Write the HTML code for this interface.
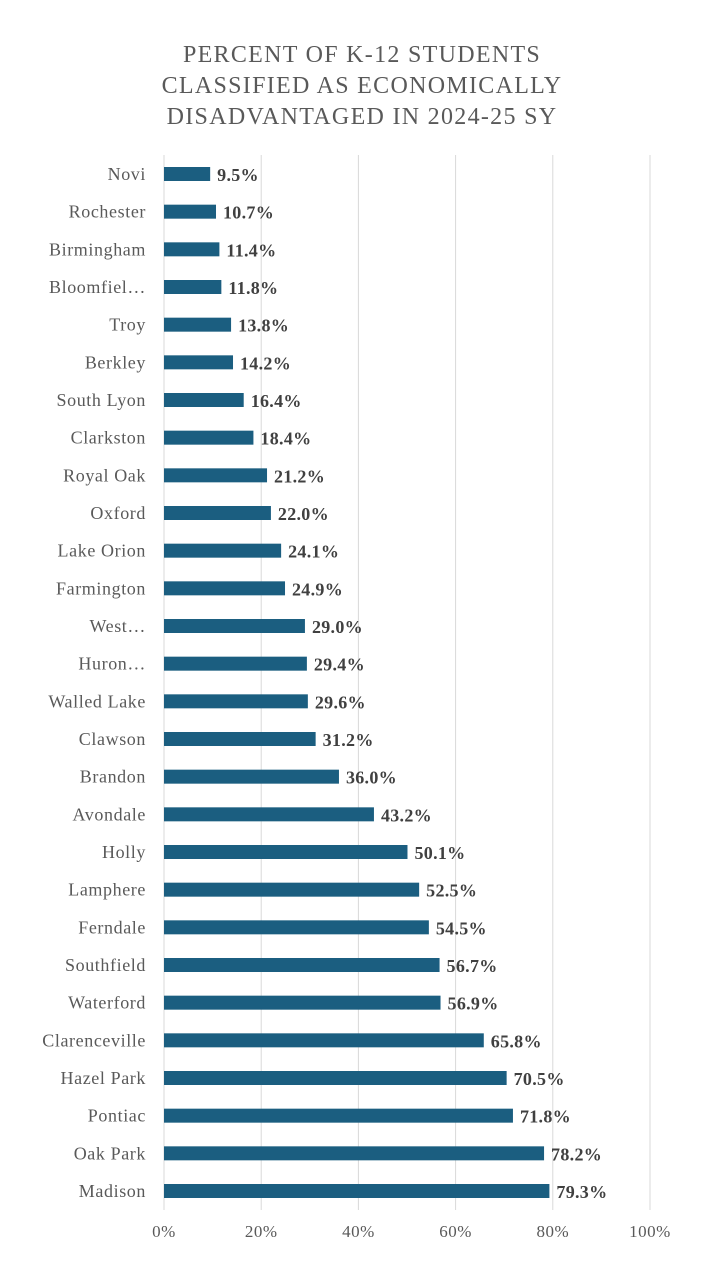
<!DOCTYPE html>
<html><head><meta charset="utf-8"><style>
body{margin:0;background:#fff;}
svg{display:block;font-family:"Liberation Serif",serif;}
</style></head><body>
<svg id="chart" width="720" height="1280" viewBox="0 0 720 1280" xmlns="http://www.w3.org/2000/svg">
<rect width="720" height="1280" fill="#fff"/>
<g fill="#595959" font-size="24" text-anchor="middle" letter-spacing="1.3">
<text x="362" y="62">PERCENT OF K-12 STUDENTS</text>
<text x="362" y="93">CLASSIFIED AS ECONOMICALLY</text>
<text x="362" y="124">DISADVANTAGED IN 2024-25 SY</text>
</g>
<g id="grid"></g>
<g id="xticks"></g>
<g id="bars"></g>
</svg>
<script>
const categories=["Novi","Rochester","Birmingham","Bloomfiel…","Troy","Berkley","South Lyon","Clarkston","Royal Oak","Oxford","Lake Orion","Farmington","West…","Huron…","Walled Lake","Clawson","Brandon","Avondale","Holly","Lamphere","Ferndale","Southfield","Waterford","Clarenceville","Hazel Park","Pontiac","Oak Park","Madison"];
const values=[9.5,10.7,11.4,11.8,13.8,14.2,16.4,18.4,21.2,22.0,24.1,24.9,29.0,29.4,29.6,31.2,36.0,43.2,50.1,52.5,54.5,56.7,56.9,65.8,70.5,71.8,78.2,79.3];
const ticks=[0,20,40,60,80,100];
const tickLabels=["0%","20%","40%","60%","80%","100%"];
const NS="http://www.w3.org/2000/svg";
const x0=164,x1=650,yTop=155,yBot=1210,firstY=174,lastY=1191;
const xs=v=>x0+(x1-x0)*v/100;
const ys=i=>firstY+(lastY-firstY)*i/(categories.length-1);
function mk(t,a,p){const e=document.createElementNS(NS,t);for(const k in a)e.setAttribute(k,a[k]);p.appendChild(e);return e;}
const g=document.getElementById('grid'),xt=document.getElementById('xticks'),b=document.getElementById('bars');
ticks.forEach((t,i)=>{
 const l=mk('line',{x1:xs(t),x2:xs(t),y1:yTop,y2:yBot,stroke:'#d9d9d9','stroke-width':1},g);
 
 
 const tx=mk('text',{x:xs(t),y:1237,'text-anchor':'middle','font-size':17,'letter-spacing':0.5,fill:'#595959'},xt);
 tx.textContent=tickLabels[i];
 
 
});
categories.forEach((c,i)=>{
 const y=ys(i);
 const lb=mk('text',{x:146,y:y+6,'text-anchor':'end','font-size':18,'letter-spacing':0.6,fill:'#595959'},b);
 lb.textContent=c;
 
 
 const r=mk('rect',{x:x0,y:y-7,width:xs(values[i])-x0,height:14,fill:'#1b5e80'},b);
 
 
 const v=mk('text',{x:xs(values[i])+7,y:y+7,'font-size':18,'font-weight':'bold','letter-spacing':0.3,fill:'#404040'},b);
 v.textContent=values[i].toFixed(1)+'%';
 
 
});
</script>
</body></html>
